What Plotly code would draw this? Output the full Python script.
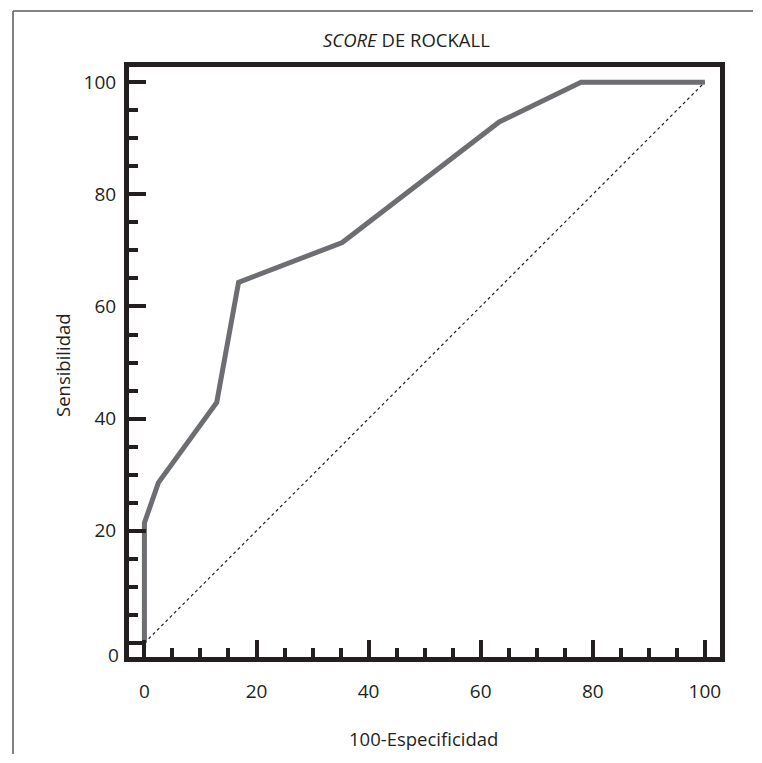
import plotly.graph_objects as go

# ROC curve data (100-Especificidad vs Sensibilidad)
fpr = [0, 0, 2.5, 12.9, 16.8, 35.3, 63.3, 77.9, 100]
tpr = [0, 21.4, 28.6, 42.9, 64.3, 71.4, 92.9, 100, 100]
diag_x = [0, 100]
diag_y = [0, 100]

x_major = [0, 20, 40, 60, 80, 100]
x_labels = ["0", "20", "40", "60", "80", "100"]
y_major = [0, 20, 40, 60, 80, 100]
y_labels = ["", "20", "40", "60", "80", "100"]

INK = "#231f20"
FONT = "Open Sans"
OFF = 8  # page body margin

fig = go.Figure()
fig.add_trace(go.Scatter(x=diag_x, y=diag_y, mode="lines",
                         line=dict(color=INK, width=1.2, dash="dot"),
                         hoverinfo="skip", showlegend=False))
fig.add_trace(go.Scatter(x=fpr, y=tpr, mode="lines",
                         line=dict(color="#6d6e71", width=5),
                         showlegend=False))

axis_common = dict(
    showline=True, linecolor=INK, linewidth=5, mirror=True,
    showgrid=False, zeroline=False,
    ticks="inside", ticklen=17, tickwidth=3.5, tickcolor=INK,
    tickfont=dict(family=FONT, size=19, color=INK),
    minor=dict(dtick=5, tick0=0, ticks="inside", ticklen=9, tickwidth=3.5,
               tickcolor=INK, showgrid=False),
)

fig.update_xaxes(range=[-2.75, 102.7], tickvals=x_major, ticktext=x_labels,
                 ticklabelstandoff=13, **axis_common)
fig.update_yaxes(range=[-2.5, 102.7], tickvals=y_major, ticktext=y_labels,
                 ticklabelstandoff=4, **axis_common)

# target pixel positions (in the screenshot)
L, R, T, B = 129, 720, 67, 657
W, H = 762 - 2 * OFF, 763 - 2 * OFF
l, r, t, b = L - OFF, R - OFF, T - OFF, B - OFF
pw, ph = r - l, b - t

def px(xp):
    return (xp - OFF - l) / pw

def py(yp):
    return (b - (yp - OFF)) / ph

annotations = [
    dict(text="<i>SCORE</i> DE ROCKALL", x=px(406), y=py(40), xref="paper", yref="paper",
         showarrow=False, xanchor="center", yanchor="middle",
         font=dict(family=FONT, size=18.5, color=INK)),
    dict(text="100-Especificidad", x=px(423), y=py(738), xref="paper", yref="paper",
         showarrow=False, xanchor="center", yanchor="middle",
         font=dict(family=FONT, size=18.5, color=INK)),
    dict(text="Sensibilidad", x=px(62), y=py(365), xref="paper", yref="paper",
         showarrow=False, xanchor="center", yanchor="middle", textangle=-90,
         font=dict(family=FONT, size=18.5, color=INK)),
    dict(text="0", x=0, y=-2.2, xref="paper", yref="y", xanchor="right",
         yanchor="middle", xshift=-8, showarrow=False,
         font=dict(family=FONT, size=19, color=INK)),
]

frame = dict(color="#58595b", width=1.5)
shapes = [
    dict(type="line", xref="paper", yref="paper",
         x0=px(13), x1=px(13), y0=py(OFF + H - 1), y1=py(11), line=frame),
    dict(type="line", xref="paper", yref="paper",
         x0=px(13), x1=px(OFF + W - 1), y0=py(11), y1=py(11), line=frame),
]

fig.update_layout(
    width=W, height=H,
    margin=dict(l=l, r=W - r, t=t, b=H - b, autoexpand=False),
    paper_bgcolor="white", plot_bgcolor="white",
    annotations=annotations, shapes=shapes,
    font=dict(family=FONT, color=INK),
)

fig.write_html("out.html")
